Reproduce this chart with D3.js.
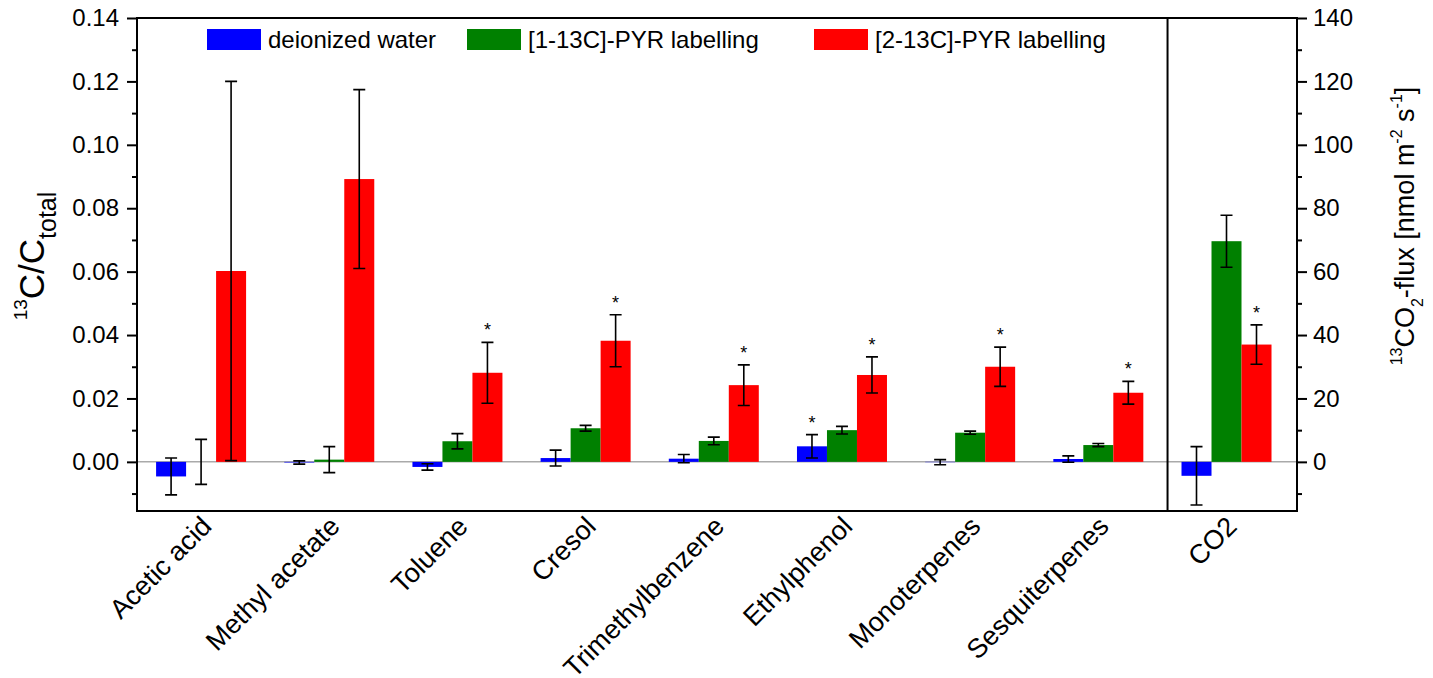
<!DOCTYPE html>
<html>
<head>
<meta charset="utf-8">
<script src="https://cdn.jsdelivr.net/npm/d3@7/dist/d3.min.js"></script>
<style>
  body { margin: 0; background: #fff; }
  svg { font-family: "Liberation Sans", Arial, sans-serif; }
  .axis path, .axis line { stroke: #000; stroke-width: 2px; }
  .axis text { font-size: 24px; fill: #000; }
  .err { stroke: #000; stroke-width: 1.6px; fill: none; }
</style>
</head>
<body>
<svg width="1433" height="678"></svg>
<script>
// categories (last one is CO2 on the right axis)
const categories = ['Acetic acid', 'Methyl acetate', 'Toluene', 'Cresol', 'Trimethylbenzene',
  'Ethylphenol', 'Monoterpenes', 'Sesquiterpenes', 'CO2']

const seriesNames = ['deionized water', '[1-13C]-PYR labelling', '[2-13C]-PYR labelling']
const seriesColors = ['#0000ff', '#008000', '#ff0000']

// 13C/Ctotal for the VOCs, 13CO2 flux (nmol m-2 s-1) for CO2
const waterVals = [-0.0046, -0.0002, -0.0016, 0.0012, 0.0010, 0.0049, -0.0001, 0.0009, -4.4]
const waterErr  = [0.0058, 0.0005, 0.0010, 0.0025, 0.0013, 0.0037, 0.0008, 0.0010, 9.2]
const pyr1Vals  = [0.0000, 0.0007, 0.0065, 0.0106, 0.0066, 0.0100, 0.0092, 0.0053, 69.6]
const pyr1Err   = [0.0071, 0.0041, 0.0024, 0.0009, 0.0012, 0.0012, 0.0005, 0.0005, 8.2]
const pyr2Vals  = [0.0602, 0.0892, 0.0281, 0.0382, 0.0242, 0.0274, 0.0300, 0.0218, 37.0]
const pyr2Err   = [0.0598, 0.0282, 0.0096, 0.0082, 0.0064, 0.0057, 0.0062, 0.0036, 6.2]

// significance stars: [category index, series index]
const stars = [[2, 2], [3, 2], [4, 2], [5, 0], [5, 2], [6, 2], [7, 2], [8, 2]]

const leftTicks = [0, 0.02, 0.04, 0.06, 0.08, 0.10, 0.12, 0.14]
const leftMinor = [-0.01, 0.01, 0.03, 0.05, 0.07, 0.09, 0.11, 0.13]
const rightTicks = [0, 20, 40, 60, 80, 100, 120, 140]
const rightMinor = [-10, 10, 30, 50, 70, 90, 110, 130]

const values = [waterVals, pyr1Vals, pyr2Vals]
const errors = [waterErr, pyr1Err, pyr2Err]

const svg = d3.select('svg')
const plotLeft = 137, plotRight = 1297, plotTop = 18, plotBottom = 511

const x = d3.scaleLinear().domain([-0.5, 8.55]).range([plotLeft, plotRight])
const yL = d3.scaleLinear().domain([-0.0155, 0.14]).range([plotBottom, plotTop])
const yR = d3.scaleLinear().domain([-15.5, 140]).range([plotBottom, plotTop])
const barW = 30

const yFor = i => i === categories.length - 1 ? yR : yL

// zero line
svg.append('line')
  .attr('x1', plotLeft).attr('x2', plotRight)
  .attr('y1', yL(0)).attr('y2', yL(0))
  .attr('stroke', '#aaa').attr('stroke-width', 1.5)

// bars
const bars = []
categories.forEach((c, i) => {
  values.forEach((vals, s) => {
    bars.push({ i, s, v: vals[i], e: errors[s][i] })
  })
})

svg.append('g').selectAll('rect').data(bars).join('rect')
  .attr('x', d => x(d.i) + (d.s - 1) * barW - barW / 2)
  .attr('width', barW)
  .attr('y', d => Math.min(yFor(d.i)(d.v), yFor(d.i)(0)))
  .attr('height', d => Math.abs(yFor(d.i)(d.v) - yFor(d.i)(0)))
  .attr('fill', d => seriesColors[d.s])

// error bars
const eg = svg.append('g')
bars.forEach(d => {
  const y = yFor(d.i)
  const cx = x(d.i) + (d.s - 1) * barW
  const y1 = y(d.v + d.e), y2 = y(d.v - d.e)
  eg.append('path').attr('class', 'err')
    .attr('d', `M ${cx},${y1} V ${y2} M ${cx - 6},${y1} H ${cx + 6} M ${cx - 6},${y2} H ${cx + 6}`)
})

// stars
svg.append('g').selectAll('text').data(stars).join('text')
  .attr('x', d => x(d[0]) + (d[1] - 1) * barW)
  .attr('y', d => yFor(d[0])(values[d[1]][d[0]] + errors[d[1]][d[0]]) - 6)
  .attr('text-anchor', 'middle')
  .attr('font-size', 18)
  .text('*')

// axes
const gl = svg.append('g').attr('class', 'axis').attr('transform', `translate(${plotLeft},0)`)
  .call(d3.axisLeft(yL).tickValues(leftTicks).tickFormat(d3.format('.2f')).tickSize(10).tickPadding(8))
gl.select('.domain').remove()
const glm = svg.append('g').attr('class', 'axis').attr('transform', `translate(${plotLeft},0)`)
  .call(d3.axisLeft(yL).tickValues(leftMinor).tickFormat('').tickSize(5))
glm.select('.domain').remove()

const gr = svg.append('g').attr('class', 'axis').attr('transform', `translate(${plotRight},0)`)
  .call(d3.axisRight(yR).tickValues(rightTicks).tickFormat(d3.format('d')).tickSize(10).tickPadding(6))
gr.select('.domain').remove()
const grm = svg.append('g').attr('class', 'axis').attr('transform', `translate(${plotRight},0)`)
  .call(d3.axisRight(yR).tickValues(rightMinor).tickFormat('').tickSize(5))
grm.select('.domain').remove()

// frame and divider
svg.append('rect')
  .attr('x', plotLeft).attr('y', plotTop).attr('width', plotRight - plotLeft).attr('height', plotBottom - plotTop)
  .attr('fill', 'none').attr('stroke', '#000').attr('stroke-width', 2)
svg.append('line')
  .attr('x1', x(7.54)).attr('x2', x(7.54)).attr('y1', plotTop).attr('y2', plotBottom)
  .attr('stroke', '#000').attr('stroke-width', 2)

// category labels
svg.append('g').selectAll('text').data(categories).join('text')
  .attr('transform', (d, i) => `translate(${x(i) + 12},528) rotate(-45)`)
  .attr('text-anchor', 'end')
  .attr('font-size', 27)
  .text(d => d)

// legend
const legendX = [207, 467, 814]
const lg = svg.append('g')
seriesNames.forEach((n, s) => {
  lg.append('rect').attr('x', legendX[s]).attr('y', 29).attr('width', 54).attr('height', 21)
    .attr('fill', seriesColors[s])
  lg.append('text').attr('x', legendX[s] + 61).attr('y', 48).attr('font-size', 24).text(n)
})

// y titles
const tl = svg.append('text').attr('transform', 'translate(44,256) rotate(-90)')
  .attr('text-anchor', 'middle').attr('font-size', 35)
tl.append('tspan').attr('font-size', 19).attr('dy', -17).text('13')
tl.append('tspan').attr('dy', 17).text('C/C')
tl.append('tspan').attr('font-size', 25).attr('dy', 12).text('total')

const tr = svg.append('text').attr('transform', 'translate(1414,226) rotate(-90)')
  .attr('text-anchor', 'middle').attr('font-size', 27)
tr.append('tspan').attr('font-size', 16).attr('dy', -12).text('13')
tr.append('tspan').attr('dy', 12).text('CO')
tr.append('tspan').attr('font-size', 16).attr('dy', 9).text('2')
tr.append('tspan').attr('dy', -9).text('-flux [nmol m')
tr.append('tspan').attr('font-size', 16).attr('dy', -12).text('-2')
tr.append('tspan').attr('dy', 12).text(' s')
tr.append('tspan').attr('font-size', 16).attr('dy', -12).text('-1')
tr.append('tspan').attr('dy', 12).text(']')
</script>
</body>
</html>
